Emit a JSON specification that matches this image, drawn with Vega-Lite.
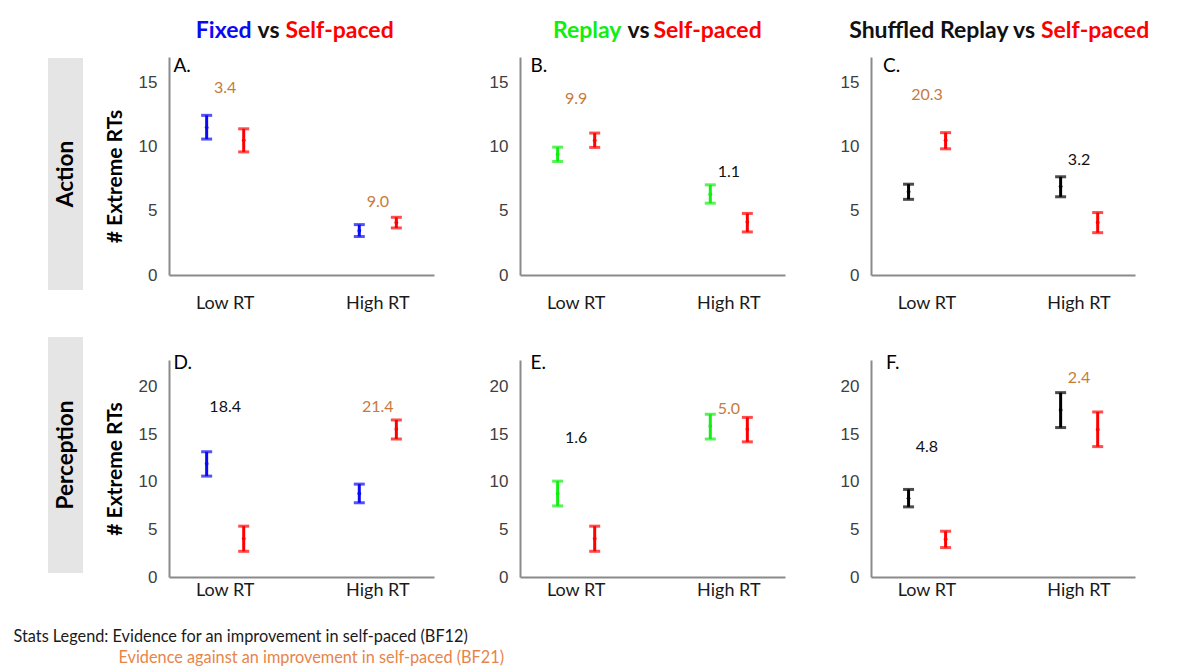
{
"$schema":"https://vega.github.io/schema/vega-lite/v6.json",
"padding":{"left":13,"top":20,"right":5,"bottom":0},
"background":"white",
"config":{"view":{"stroke":null},
 "axis":{"grid":false,"ticks":false,"domainColor":"#8a8a8a","domainWidth":2,"titleFont":"Lato","titleFontSize":21,"titleFontWeight":"bold","titleColor":"#000","titlePadding":13},
 "axisX":{"labelFont":"Lato","labelFontSize":18,"labelColor":"#1a1a1a","labelAngle":0},
 "axisY":{"labelFont":"Liberation Sans","labelFontSize":17,"labelColor":"#404040","labelPadding":12}},
"datasets":{
 "pts":[
  {"row":"Action","col":"Fixed","rt":"Low RT","cond":"Comparison","group":"Fixed","mean":11.5,"lo":10.6,"hi":12.45},
  {"row":"Action","col":"Fixed","rt":"Low RT","cond":"Self-paced","group":"Self-paced","mean":10.5,"lo":9.6,"hi":11.4},
  {"row":"Action","col":"Fixed","rt":"High RT","cond":"Comparison","group":"Fixed","mean":3.46,"lo":3.0,"hi":3.93},
  {"row":"Action","col":"Fixed","rt":"High RT","cond":"Self-paced","group":"Self-paced","mean":4.1,"lo":3.67,"hi":4.5},
  {"row":"Action","col":"Replay","rt":"Low RT","cond":"Comparison","group":"Replay","mean":9.4,"lo":8.85,"hi":9.97},
  {"row":"Action","col":"Replay","rt":"Low RT","cond":"Self-paced","group":"Self-paced","mean":10.5,"lo":9.95,"hi":11.07},
  {"row":"Action","col":"Replay","rt":"High RT","cond":"Comparison","group":"Replay","mean":6.3,"lo":5.6,"hi":7.03},
  {"row":"Action","col":"Replay","rt":"High RT","cond":"Self-paced","group":"Self-paced","mean":4.14,"lo":3.36,"hi":4.8},
  {"row":"Action","col":"Shuffled","rt":"Low RT","cond":"Comparison","group":"Shuffled Replay","mean":6.5,"lo":5.9,"hi":7.08},
  {"row":"Action","col":"Shuffled","rt":"Low RT","cond":"Self-paced","group":"Self-paced","mean":10.5,"lo":9.84,"hi":11.1},
  {"row":"Action","col":"Shuffled","rt":"High RT","cond":"Comparison","group":"Shuffled Replay","mean":6.9,"lo":6.1,"hi":7.66},
  {"row":"Action","col":"Shuffled","rt":"High RT","cond":"Self-paced","group":"Self-paced","mean":4.1,"lo":3.3,"hi":4.87},
  {"row":"Perception","col":"Fixed","rt":"Low RT","cond":"Comparison","group":"Fixed","mean":11.9,"lo":10.6,"hi":13.16},
  {"row":"Perception","col":"Fixed","rt":"Low RT","cond":"Self-paced","group":"Self-paced","mean":4.04,"lo":2.7,"hi":5.34},
  {"row":"Perception","col":"Fixed","rt":"High RT","cond":"Comparison","group":"Fixed","mean":8.78,"lo":7.8,"hi":9.76},
  {"row":"Perception","col":"Fixed","rt":"High RT","cond":"Self-paced","group":"Self-paced","mean":15.55,"lo":14.5,"hi":16.5},
  {"row":"Perception","col":"Replay","rt":"Low RT","cond":"Comparison","group":"Replay","mean":8.78,"lo":7.47,"hi":10.07},
  {"row":"Perception","col":"Replay","rt":"Low RT","cond":"Self-paced","group":"Self-paced","mean":4.04,"lo":2.7,"hi":5.34},
  {"row":"Perception","col":"Replay","rt":"High RT","cond":"Comparison","group":"Replay","mean":15.86,"lo":14.5,"hi":17.1},
  {"row":"Perception","col":"Replay","rt":"High RT","cond":"Self-paced","group":"Self-paced","mean":15.55,"lo":14.2,"hi":16.77},
  {"row":"Perception","col":"Shuffled","rt":"Low RT","cond":"Comparison","group":"Shuffled Replay","mean":8.28,"lo":7.37,"hi":9.2},
  {"row":"Perception","col":"Shuffled","rt":"Low RT","cond":"Self-paced","group":"Self-paced","mean":3.97,"lo":3.09,"hi":4.81},
  {"row":"Perception","col":"Shuffled","rt":"High RT","cond":"Comparison","group":"Shuffled Replay","mean":17.55,"lo":15.7,"hi":19.37},
  {"row":"Perception","col":"Shuffled","rt":"High RT","cond":"Self-paced","group":"Self-paced","mean":15.5,"lo":13.7,"hi":17.34}
 ],
 "bf":[
  {"row":"Action","col":"Fixed","rt":"Low RT","bf":"3.4","y":14.6,"kind":"against"},
  {"row":"Action","col":"Fixed","rt":"High RT","bf":"9.0","y":5.7,"kind":"against"},
  {"row":"Action","col":"Replay","rt":"Low RT","bf":"9.9","y":13.7,"kind":"against"},
  {"row":"Action","col":"Replay","rt":"High RT","bf":"1.1","y":8.07,"kind":"for"},
  {"row":"Action","col":"Shuffled","rt":"Low RT","bf":"20.3","y":14.06,"kind":"against"},
  {"row":"Action","col":"Shuffled","rt":"High RT","bf":"3.2","y":8.98,"kind":"for"},
  {"row":"Perception","col":"Fixed","rt":"Low RT","bf":"18.4","y":17.9,"kind":"for"},
  {"row":"Perception","col":"Fixed","rt":"High RT","bf":"21.4","y":17.9,"kind":"against"},
  {"row":"Perception","col":"Replay","rt":"Low RT","bf":"1.6","y":14.6,"kind":"for"},
  {"row":"Perception","col":"Replay","rt":"High RT","bf":"5.0","y":17.6,"kind":"against"},
  {"row":"Perception","col":"Shuffled","rt":"Low RT","bf":"4.8","y":13.7,"kind":"for"},
  {"row":"Perception","col":"Shuffled","rt":"High RT","bf":"2.4","y":20.9,"kind":"against"}
 ]
},
"columns":4,
"align":"each",
"spacing":{"row":85,"column":86},
"bounds":"flush",
"concat":[
  {"width":35,"height":218,"data":{"values":[{"label":"Action"}]},
   "layer":[
    {"mark":{"type":"rect","color":"#e5e5e5"},"encoding":{"x":{"datum":0,"type":"quantitative","scale":{"domain":[0,1]},"axis":null},"x2":{"datum":1},"y":{"datum":-0.069,"type":"quantitative","scale":{"domain":[0,1]},"axis":null},"y2":{"datum":0.995}}},
    {"mark":{"type":"text","font":"Lato","fontSize":22.5,"fontWeight":"bold","angle":270,"color":"#000"},"encoding":{"x":{"datum":0.5,"type":"quantitative","scale":{"domain":[0,1]},"axis":null},"y":{"datum":0.463,"type":"quantitative","scale":{"domain":[0,1]},"axis":null},"text":{"field":"label"}}}
   ]},
  {"width":265,"height":218,"resolve":{"scale":{"color":"independent"}},
   "layer":[
    {"data":{"name":"pts"},"transform":[{"filter":"datum.row==='Action' && datum.col==='Fixed'"}],"mark":{"type":"rule","strokeWidth":3},
     "encoding":{"x":{"field":"rt","type":"nominal","sort":["Low RT","High RT"],"title":null,"scale":{"paddingInner":0.6,"paddingOuter":0.168},"axis":{"labelPadding":19}},"xOffset":{"field":"cond","type":"nominal","scale":{"paddingInner":0.5,"paddingOuter":0.074}},
      "y":{"field":"lo","type":"quantitative","title":"# Extreme RTs","scale":{"domain":[0,17],"nice":false},"axis":{"values":[0,5,10,15],"titleY":119}},"y2":{"field":"hi"},
      "color":{"field":"group","type":"nominal","scale":{"domain":["Fixed","Replay","Shuffled Replay","Self-paced"],"range":["#0a0af5","#11ee11","#000000","#ff0000"]},"legend":null}}},
    {"data":{"name":"pts"},"transform":[{"filter":"datum.row==='Action' && datum.col==='Fixed'"}],"mark":{"type":"tick","thickness":3,"size":11},
     "encoding":{"x":{"field":"rt","type":"nominal","sort":["Low RT","High RT"],"title":null},"xOffset":{"field":"cond","type":"nominal"},
      "y":{"field":"lo","type":"quantitative","title":"# Extreme RTs","scale":{"domain":[0,17],"nice":false},"axis":{"values":[0,5,10,15],"titleY":119}},
      "color":{"field":"group","type":"nominal","scale":{"domain":["Fixed","Replay","Shuffled Replay","Self-paced"],"range":["#0a0af5","#11ee11","#000000","#ff0000"]},"legend":null}}},
    {"data":{"name":"pts"},"transform":[{"filter":"datum.row==='Action' && datum.col==='Fixed'"}],"mark":{"type":"tick","thickness":3,"size":11},
     "encoding":{"x":{"field":"rt","type":"nominal","sort":["Low RT","High RT"],"title":null},"xOffset":{"field":"cond","type":"nominal"},
      "y":{"field":"hi","type":"quantitative","title":"# Extreme RTs","scale":{"domain":[0,17],"nice":false},"axis":{"values":[0,5,10,15],"titleY":119}},
      "color":{"field":"group","type":"nominal","scale":{"domain":["Fixed","Replay","Shuffled Replay","Self-paced"],"range":["#0a0af5","#11ee11","#000000","#ff0000"]},"legend":null}}},
    {"data":{"name":"pts"},"transform":[{"filter":"datum.row==='Action' && datum.col==='Fixed'"}],"mark":{"type":"point","filled":true,"size":14,"opacity":1},
     "encoding":{"x":{"field":"rt","type":"nominal","sort":["Low RT","High RT"],"title":null},"xOffset":{"field":"cond","type":"nominal"},
      "y":{"field":"mean","type":"quantitative","title":"# Extreme RTs","scale":{"domain":[0,17],"nice":false},"axis":{"values":[0,5,10,15],"titleY":119}},
      "color":{"field":"group","type":"nominal","scale":{"domain":["Fixed","Replay","Shuffled Replay","Self-paced"],"range":["#0a0af5","#11ee11","#000000","#ff0000"]},"legend":null}}},
    {"data":{"name":"bf"},"transform":[{"filter":"datum.row==='Action' && datum.col==='Fixed'"}],"mark":{"type":"text","font":"Lato","fontSize":16},
     "encoding":{"x":{"field":"rt","type":"nominal","sort":["Low RT","High RT"],"title":null},
      "y":{"field":"y","type":"quantitative","title":"# Extreme RTs","scale":{"domain":[0,17],"nice":false},"axis":{"values":[0,5,10,15],"titleY":119}},
      "text":{"field":"bf"},
      "color":{"field":"kind","type":"nominal","scale":{"domain":["for","against"],"range":["#111111","#c57b3c"]},"legend":null}}},
    {"data":{"values":[{"w":"A."}]},"mark":{"type":"text","font":"Lato","fontSize":19,"align":"left","baseline":"top","dx":-128,"color":"#000"},
     "encoding":{"y":{"datum":17,"type":"quantitative","title":"# Extreme RTs","scale":{"domain":[0,17],"nice":false},"axis":{"values":[0,5,10,15],"titleY":119}},"text":{"field":"w"}}},
    {"data":{"values":[{"w":"Fixed"}]},"mark":{"type":"text","font":"Lato","fontSize":23,"fontWeight":"bold","align":"right","dx":-50,"color":"#0a0af5"},
     "encoding":{"y":{"datum":19,"type":"quantitative","title":"# Extreme RTs","scale":{"domain":[0,17],"nice":false},"axis":{"values":[0,5,10,15],"titleY":119}},"text":{"field":"w"}}},
    {"data":{"values":[{"w":"vs"}]},"mark":{"type":"text","font":"Lato","fontSize":23,"fontWeight":"bold","align":"center","dx":-33,"color":"#111111"},
     "encoding":{"y":{"datum":19,"type":"quantitative","title":"# Extreme RTs","scale":{"domain":[0,17],"nice":false},"axis":{"values":[0,5,10,15],"titleY":119}},"text":{"field":"w"}}},
    {"data":{"values":[{"w":"Self-paced"}]},"mark":{"type":"text","font":"Lato","fontSize":23,"fontWeight":"bold","align":"left","dx":-16,"color":"#ff0000"},
     "encoding":{"y":{"datum":19,"type":"quantitative","title":"# Extreme RTs","scale":{"domain":[0,17],"nice":false},"axis":{"values":[0,5,10,15],"titleY":119}},"text":{"field":"w"}}}
   ]},
  {"width":265,"height":218,"resolve":{"scale":{"color":"independent"}},
   "layer":[
    {"data":{"name":"pts"},"transform":[{"filter":"datum.row==='Action' && datum.col==='Replay'"}],"mark":{"type":"rule","strokeWidth":3},
     "encoding":{"x":{"field":"rt","type":"nominal","sort":["Low RT","High RT"],"title":null,"scale":{"paddingInner":0.6,"paddingOuter":0.168},"axis":{"labelPadding":19}},"xOffset":{"field":"cond","type":"nominal","scale":{"paddingInner":0.5,"paddingOuter":0.074}},
      "y":{"field":"lo","type":"quantitative","title":null,"scale":{"domain":[0,17],"nice":false},"axis":{"values":[0,5,10,15]}},"y2":{"field":"hi"},
      "color":{"field":"group","type":"nominal","scale":{"domain":["Fixed","Replay","Shuffled Replay","Self-paced"],"range":["#0a0af5","#11ee11","#000000","#ff0000"]},"legend":null}}},
    {"data":{"name":"pts"},"transform":[{"filter":"datum.row==='Action' && datum.col==='Replay'"}],"mark":{"type":"tick","thickness":3,"size":11},
     "encoding":{"x":{"field":"rt","type":"nominal","sort":["Low RT","High RT"],"title":null},"xOffset":{"field":"cond","type":"nominal"},
      "y":{"field":"lo","type":"quantitative","title":null,"scale":{"domain":[0,17],"nice":false},"axis":{"values":[0,5,10,15]}},
      "color":{"field":"group","type":"nominal","scale":{"domain":["Fixed","Replay","Shuffled Replay","Self-paced"],"range":["#0a0af5","#11ee11","#000000","#ff0000"]},"legend":null}}},
    {"data":{"name":"pts"},"transform":[{"filter":"datum.row==='Action' && datum.col==='Replay'"}],"mark":{"type":"tick","thickness":3,"size":11},
     "encoding":{"x":{"field":"rt","type":"nominal","sort":["Low RT","High RT"],"title":null},"xOffset":{"field":"cond","type":"nominal"},
      "y":{"field":"hi","type":"quantitative","title":null,"scale":{"domain":[0,17],"nice":false},"axis":{"values":[0,5,10,15]}},
      "color":{"field":"group","type":"nominal","scale":{"domain":["Fixed","Replay","Shuffled Replay","Self-paced"],"range":["#0a0af5","#11ee11","#000000","#ff0000"]},"legend":null}}},
    {"data":{"name":"pts"},"transform":[{"filter":"datum.row==='Action' && datum.col==='Replay'"}],"mark":{"type":"point","filled":true,"size":14,"opacity":1},
     "encoding":{"x":{"field":"rt","type":"nominal","sort":["Low RT","High RT"],"title":null},"xOffset":{"field":"cond","type":"nominal"},
      "y":{"field":"mean","type":"quantitative","title":null,"scale":{"domain":[0,17],"nice":false},"axis":{"values":[0,5,10,15]}},
      "color":{"field":"group","type":"nominal","scale":{"domain":["Fixed","Replay","Shuffled Replay","Self-paced"],"range":["#0a0af5","#11ee11","#000000","#ff0000"]},"legend":null}}},
    {"data":{"name":"bf"},"transform":[{"filter":"datum.row==='Action' && datum.col==='Replay'"}],"mark":{"type":"text","font":"Lato","fontSize":16},
     "encoding":{"x":{"field":"rt","type":"nominal","sort":["Low RT","High RT"],"title":null},
      "y":{"field":"y","type":"quantitative","title":null,"scale":{"domain":[0,17],"nice":false},"axis":{"values":[0,5,10,15]}},
      "text":{"field":"bf"},
      "color":{"field":"kind","type":"nominal","scale":{"domain":["for","against"],"range":["#111111","#c57b3c"]},"legend":null}}},
    {"data":{"values":[{"w":"B."}]},"mark":{"type":"text","font":"Lato","fontSize":19,"align":"left","baseline":"top","dx":-122,"color":"#000"},
     "encoding":{"y":{"datum":17,"type":"quantitative","title":null,"scale":{"domain":[0,17],"nice":false},"axis":{"values":[0,5,10,15]}},"text":{"field":"w"}}},
    {"data":{"values":[{"w":"Replay"}]},"mark":{"type":"text","font":"Lato","fontSize":23,"fontWeight":"bold","align":"right","dx":-31,"color":"#11ee11"},
     "encoding":{"y":{"datum":19,"type":"quantitative","title":null,"scale":{"domain":[0,17],"nice":false},"axis":{"values":[0,5,10,15]}},"text":{"field":"w"}}},
    {"data":{"values":[{"w":"vs"}]},"mark":{"type":"text","font":"Lato","fontSize":23,"fontWeight":"bold","align":"center","dx":-14,"color":"#111111"},
     "encoding":{"y":{"datum":19,"type":"quantitative","title":null,"scale":{"domain":[0,17],"nice":false},"axis":{"values":[0,5,10,15]}},"text":{"field":"w"}}},
    {"data":{"values":[{"w":"Self-paced"}]},"mark":{"type":"text","font":"Lato","fontSize":23,"fontWeight":"bold","align":"left","dx":1,"color":"#ff0000"},
     "encoding":{"y":{"datum":19,"type":"quantitative","title":null,"scale":{"domain":[0,17],"nice":false},"axis":{"values":[0,5,10,15]}},"text":{"field":"w"}}}
   ]},
  {"width":264,"height":218,"resolve":{"scale":{"color":"independent"}},
   "layer":[
    {"data":{"name":"pts"},"transform":[{"filter":"datum.row==='Action' && datum.col==='Shuffled'"}],"mark":{"type":"rule","strokeWidth":3},
     "encoding":{"x":{"field":"rt","type":"nominal","sort":["Low RT","High RT"],"title":null,"scale":{"paddingInner":0.6,"paddingOuter":0.168},"axis":{"labelPadding":19}},"xOffset":{"field":"cond","type":"nominal","scale":{"paddingInner":0.5,"paddingOuter":0.074}},
      "y":{"field":"lo","type":"quantitative","title":null,"scale":{"domain":[0,17],"nice":false},"axis":{"values":[0,5,10,15]}},"y2":{"field":"hi"},
      "color":{"field":"group","type":"nominal","scale":{"domain":["Fixed","Replay","Shuffled Replay","Self-paced"],"range":["#0a0af5","#11ee11","#000000","#ff0000"]},"legend":null}}},
    {"data":{"name":"pts"},"transform":[{"filter":"datum.row==='Action' && datum.col==='Shuffled'"}],"mark":{"type":"tick","thickness":3,"size":11},
     "encoding":{"x":{"field":"rt","type":"nominal","sort":["Low RT","High RT"],"title":null},"xOffset":{"field":"cond","type":"nominal"},
      "y":{"field":"lo","type":"quantitative","title":null,"scale":{"domain":[0,17],"nice":false},"axis":{"values":[0,5,10,15]}},
      "color":{"field":"group","type":"nominal","scale":{"domain":["Fixed","Replay","Shuffled Replay","Self-paced"],"range":["#0a0af5","#11ee11","#000000","#ff0000"]},"legend":null}}},
    {"data":{"name":"pts"},"transform":[{"filter":"datum.row==='Action' && datum.col==='Shuffled'"}],"mark":{"type":"tick","thickness":3,"size":11},
     "encoding":{"x":{"field":"rt","type":"nominal","sort":["Low RT","High RT"],"title":null},"xOffset":{"field":"cond","type":"nominal"},
      "y":{"field":"hi","type":"quantitative","title":null,"scale":{"domain":[0,17],"nice":false},"axis":{"values":[0,5,10,15]}},
      "color":{"field":"group","type":"nominal","scale":{"domain":["Fixed","Replay","Shuffled Replay","Self-paced"],"range":["#0a0af5","#11ee11","#000000","#ff0000"]},"legend":null}}},
    {"data":{"name":"pts"},"transform":[{"filter":"datum.row==='Action' && datum.col==='Shuffled'"}],"mark":{"type":"point","filled":true,"size":14,"opacity":1},
     "encoding":{"x":{"field":"rt","type":"nominal","sort":["Low RT","High RT"],"title":null},"xOffset":{"field":"cond","type":"nominal"},
      "y":{"field":"mean","type":"quantitative","title":null,"scale":{"domain":[0,17],"nice":false},"axis":{"values":[0,5,10,15]}},
      "color":{"field":"group","type":"nominal","scale":{"domain":["Fixed","Replay","Shuffled Replay","Self-paced"],"range":["#0a0af5","#11ee11","#000000","#ff0000"]},"legend":null}}},
    {"data":{"name":"bf"},"transform":[{"filter":"datum.row==='Action' && datum.col==='Shuffled'"}],"mark":{"type":"text","font":"Lato","fontSize":16},
     "encoding":{"x":{"field":"rt","type":"nominal","sort":["Low RT","High RT"],"title":null},
      "y":{"field":"y","type":"quantitative","title":null,"scale":{"domain":[0,17],"nice":false},"axis":{"values":[0,5,10,15]}},
      "text":{"field":"bf"},
      "color":{"field":"kind","type":"nominal","scale":{"domain":["for","against"],"range":["#111111","#c57b3c"]},"legend":null}}},
    {"data":{"values":[{"w":"C."}]},"mark":{"type":"text","font":"Lato","fontSize":19,"align":"left","baseline":"top","dx":-120,"color":"#000"},
     "encoding":{"y":{"datum":17,"type":"quantitative","title":null,"scale":{"domain":[0,17],"nice":false},"axis":{"values":[0,5,10,15]}},"text":{"field":"w"}}},
    {"data":{"values":[{"w":"Shuffled Replay vs"}]},"mark":{"type":"text","font":"Lato","fontSize":23,"fontWeight":"bold","align":"right","dx":32,"color":"#111111"},
     "encoding":{"y":{"datum":19,"type":"quantitative","title":null,"scale":{"domain":[0,17],"nice":false},"axis":{"values":[0,5,10,15]}},"text":{"field":"w"}}},
    {"data":{"values":[{"w":"Self-paced"}]},"mark":{"type":"text","font":"Lato","fontSize":23,"fontWeight":"bold","align":"left","dx":38,"color":"#ff0000"},
     "encoding":{"y":{"datum":19,"type":"quantitative","title":null,"scale":{"domain":[0,17],"nice":false},"axis":{"values":[0,5,10,15]}},"text":{"field":"w"}}}
   ]},
  {"width":35,"height":217,"data":{"values":[{"label":"Perception"}]},
   "layer":[
    {"mark":{"type":"rect","color":"#e5e5e5"},"encoding":{"x":{"datum":0,"type":"quantitative","scale":{"domain":[0,1]},"axis":null},"x2":{"datum":1},"y":{"datum":0.018,"type":"quantitative","scale":{"domain":[0,1]},"axis":null},"y2":{"datum":1.106}}},
    {"mark":{"type":"text","font":"Lato","fontSize":22.5,"fontWeight":"bold","angle":270,"color":"#000"},"encoding":{"x":{"datum":0.5,"type":"quantitative","scale":{"domain":[0,1]},"axis":null},"y":{"datum":0.562,"type":"quantitative","scale":{"domain":[0,1]},"axis":null},"text":{"field":"label"}}}
   ]},
  {"width":265,"height":217,"resolve":{"scale":{"color":"independent"}},
   "layer":[
    {"data":{"name":"pts"},"transform":[{"filter":"datum.row==='Perception' && datum.col==='Fixed'"}],"mark":{"type":"rule","strokeWidth":3},
     "encoding":{"x":{"field":"rt","type":"nominal","sort":["Low RT","High RT"],"title":null,"scale":{"paddingInner":0.6,"paddingOuter":0.168},"axis":{"labelPadding":4}},"xOffset":{"field":"cond","type":"nominal","scale":{"paddingInner":0.5,"paddingOuter":0.074}},
      "y":{"field":"lo","type":"quantitative","title":"# Extreme RTs","scale":{"domain":[0,22.8],"nice":false},"axis":{"values":[0,5,10,15,20]}},"y2":{"field":"hi"},
      "color":{"field":"group","type":"nominal","scale":{"domain":["Fixed","Replay","Shuffled Replay","Self-paced"],"range":["#0a0af5","#11ee11","#000000","#ff0000"]},"legend":null}}},
    {"data":{"name":"pts"},"transform":[{"filter":"datum.row==='Perception' && datum.col==='Fixed'"}],"mark":{"type":"tick","thickness":3,"size":11},
     "encoding":{"x":{"field":"rt","type":"nominal","sort":["Low RT","High RT"],"title":null},"xOffset":{"field":"cond","type":"nominal"},
      "y":{"field":"lo","type":"quantitative","title":"# Extreme RTs","scale":{"domain":[0,22.8],"nice":false},"axis":{"values":[0,5,10,15,20]}},
      "color":{"field":"group","type":"nominal","scale":{"domain":["Fixed","Replay","Shuffled Replay","Self-paced"],"range":["#0a0af5","#11ee11","#000000","#ff0000"]},"legend":null}}},
    {"data":{"name":"pts"},"transform":[{"filter":"datum.row==='Perception' && datum.col==='Fixed'"}],"mark":{"type":"tick","thickness":3,"size":11},
     "encoding":{"x":{"field":"rt","type":"nominal","sort":["Low RT","High RT"],"title":null},"xOffset":{"field":"cond","type":"nominal"},
      "y":{"field":"hi","type":"quantitative","title":"# Extreme RTs","scale":{"domain":[0,22.8],"nice":false},"axis":{"values":[0,5,10,15,20]}},
      "color":{"field":"group","type":"nominal","scale":{"domain":["Fixed","Replay","Shuffled Replay","Self-paced"],"range":["#0a0af5","#11ee11","#000000","#ff0000"]},"legend":null}}},
    {"data":{"name":"pts"},"transform":[{"filter":"datum.row==='Perception' && datum.col==='Fixed'"}],"mark":{"type":"point","filled":true,"size":14,"opacity":1},
     "encoding":{"x":{"field":"rt","type":"nominal","sort":["Low RT","High RT"],"title":null},"xOffset":{"field":"cond","type":"nominal"},
      "y":{"field":"mean","type":"quantitative","title":"# Extreme RTs","scale":{"domain":[0,22.8],"nice":false},"axis":{"values":[0,5,10,15,20]}},
      "color":{"field":"group","type":"nominal","scale":{"domain":["Fixed","Replay","Shuffled Replay","Self-paced"],"range":["#0a0af5","#11ee11","#000000","#ff0000"]},"legend":null}}},
    {"data":{"name":"bf"},"transform":[{"filter":"datum.row==='Perception' && datum.col==='Fixed'"}],"mark":{"type":"text","font":"Lato","fontSize":16},
     "encoding":{"x":{"field":"rt","type":"nominal","sort":["Low RT","High RT"],"title":null},
      "y":{"field":"y","type":"quantitative","title":"# Extreme RTs","scale":{"domain":[0,22.8],"nice":false},"axis":{"values":[0,5,10,15,20]}},
      "text":{"field":"bf"},
      "color":{"field":"kind","type":"nominal","scale":{"domain":["for","against"],"range":["#111111","#c57b3c"]},"legend":null}}},
    {"data":{"values":[{"w":"D."}]},"mark":{"type":"text","font":"Lato","fontSize":19,"align":"left","baseline":"top","dx":-128,"dy":-6,"color":"#000"},
     "encoding":{"y":{"datum":22.8,"type":"quantitative","title":"# Extreme RTs","scale":{"domain":[0,22.8],"nice":false},"axis":{"values":[0,5,10,15,20]}},"text":{"field":"w"}}}
   ]},
  {"width":265,"height":217,"resolve":{"scale":{"color":"independent"}},
   "layer":[
    {"data":{"name":"pts"},"transform":[{"filter":"datum.row==='Perception' && datum.col==='Replay'"}],"mark":{"type":"rule","strokeWidth":3},
     "encoding":{"x":{"field":"rt","type":"nominal","sort":["Low RT","High RT"],"title":null,"scale":{"paddingInner":0.6,"paddingOuter":0.168},"axis":{"labelPadding":4}},"xOffset":{"field":"cond","type":"nominal","scale":{"paddingInner":0.5,"paddingOuter":0.074}},
      "y":{"field":"lo","type":"quantitative","title":null,"scale":{"domain":[0,22.8],"nice":false},"axis":{"values":[0,5,10,15,20]}},"y2":{"field":"hi"},
      "color":{"field":"group","type":"nominal","scale":{"domain":["Fixed","Replay","Shuffled Replay","Self-paced"],"range":["#0a0af5","#11ee11","#000000","#ff0000"]},"legend":null}}},
    {"data":{"name":"pts"},"transform":[{"filter":"datum.row==='Perception' && datum.col==='Replay'"}],"mark":{"type":"tick","thickness":3,"size":11},
     "encoding":{"x":{"field":"rt","type":"nominal","sort":["Low RT","High RT"],"title":null},"xOffset":{"field":"cond","type":"nominal"},
      "y":{"field":"lo","type":"quantitative","title":null,"scale":{"domain":[0,22.8],"nice":false},"axis":{"values":[0,5,10,15,20]}},
      "color":{"field":"group","type":"nominal","scale":{"domain":["Fixed","Replay","Shuffled Replay","Self-paced"],"range":["#0a0af5","#11ee11","#000000","#ff0000"]},"legend":null}}},
    {"data":{"name":"pts"},"transform":[{"filter":"datum.row==='Perception' && datum.col==='Replay'"}],"mark":{"type":"tick","thickness":3,"size":11},
     "encoding":{"x":{"field":"rt","type":"nominal","sort":["Low RT","High RT"],"title":null},"xOffset":{"field":"cond","type":"nominal"},
      "y":{"field":"hi","type":"quantitative","title":null,"scale":{"domain":[0,22.8],"nice":false},"axis":{"values":[0,5,10,15,20]}},
      "color":{"field":"group","type":"nominal","scale":{"domain":["Fixed","Replay","Shuffled Replay","Self-paced"],"range":["#0a0af5","#11ee11","#000000","#ff0000"]},"legend":null}}},
    {"data":{"name":"pts"},"transform":[{"filter":"datum.row==='Perception' && datum.col==='Replay'"}],"mark":{"type":"point","filled":true,"size":14,"opacity":1},
     "encoding":{"x":{"field":"rt","type":"nominal","sort":["Low RT","High RT"],"title":null},"xOffset":{"field":"cond","type":"nominal"},
      "y":{"field":"mean","type":"quantitative","title":null,"scale":{"domain":[0,22.8],"nice":false},"axis":{"values":[0,5,10,15,20]}},
      "color":{"field":"group","type":"nominal","scale":{"domain":["Fixed","Replay","Shuffled Replay","Self-paced"],"range":["#0a0af5","#11ee11","#000000","#ff0000"]},"legend":null}}},
    {"data":{"name":"bf"},"transform":[{"filter":"datum.row==='Perception' && datum.col==='Replay'"}],"mark":{"type":"text","font":"Lato","fontSize":16},
     "encoding":{"x":{"field":"rt","type":"nominal","sort":["Low RT","High RT"],"title":null},
      "y":{"field":"y","type":"quantitative","title":null,"scale":{"domain":[0,22.8],"nice":false},"axis":{"values":[0,5,10,15,20]}},
      "text":{"field":"bf"},
      "color":{"field":"kind","type":"nominal","scale":{"domain":["for","against"],"range":["#111111","#c57b3c"]},"legend":null}}},
    {"data":{"values":[{"w":"E."}]},"mark":{"type":"text","font":"Lato","fontSize":19,"align":"left","baseline":"top","dx":-122,"dy":-6,"color":"#000"},
     "encoding":{"y":{"datum":22.8,"type":"quantitative","title":null,"scale":{"domain":[0,22.8],"nice":false},"axis":{"values":[0,5,10,15,20]}},"text":{"field":"w"}}}
   ]},
  {"width":264,"height":217,"resolve":{"scale":{"color":"independent"}},
   "layer":[
    {"data":{"name":"pts"},"transform":[{"filter":"datum.row==='Perception' && datum.col==='Shuffled'"}],"mark":{"type":"rule","strokeWidth":3},
     "encoding":{"x":{"field":"rt","type":"nominal","sort":["Low RT","High RT"],"title":null,"scale":{"paddingInner":0.6,"paddingOuter":0.168},"axis":{"labelPadding":4}},"xOffset":{"field":"cond","type":"nominal","scale":{"paddingInner":0.5,"paddingOuter":0.074}},
      "y":{"field":"lo","type":"quantitative","title":null,"scale":{"domain":[0,22.8],"nice":false},"axis":{"values":[0,5,10,15,20]}},"y2":{"field":"hi"},
      "color":{"field":"group","type":"nominal","scale":{"domain":["Fixed","Replay","Shuffled Replay","Self-paced"],"range":["#0a0af5","#11ee11","#000000","#ff0000"]},"legend":null}}},
    {"data":{"name":"pts"},"transform":[{"filter":"datum.row==='Perception' && datum.col==='Shuffled'"}],"mark":{"type":"tick","thickness":3,"size":11},
     "encoding":{"x":{"field":"rt","type":"nominal","sort":["Low RT","High RT"],"title":null},"xOffset":{"field":"cond","type":"nominal"},
      "y":{"field":"lo","type":"quantitative","title":null,"scale":{"domain":[0,22.8],"nice":false},"axis":{"values":[0,5,10,15,20]}},
      "color":{"field":"group","type":"nominal","scale":{"domain":["Fixed","Replay","Shuffled Replay","Self-paced"],"range":["#0a0af5","#11ee11","#000000","#ff0000"]},"legend":null}}},
    {"data":{"name":"pts"},"transform":[{"filter":"datum.row==='Perception' && datum.col==='Shuffled'"}],"mark":{"type":"tick","thickness":3,"size":11},
     "encoding":{"x":{"field":"rt","type":"nominal","sort":["Low RT","High RT"],"title":null},"xOffset":{"field":"cond","type":"nominal"},
      "y":{"field":"hi","type":"quantitative","title":null,"scale":{"domain":[0,22.8],"nice":false},"axis":{"values":[0,5,10,15,20]}},
      "color":{"field":"group","type":"nominal","scale":{"domain":["Fixed","Replay","Shuffled Replay","Self-paced"],"range":["#0a0af5","#11ee11","#000000","#ff0000"]},"legend":null}}},
    {"data":{"name":"pts"},"transform":[{"filter":"datum.row==='Perception' && datum.col==='Shuffled'"}],"mark":{"type":"point","filled":true,"size":14,"opacity":1},
     "encoding":{"x":{"field":"rt","type":"nominal","sort":["Low RT","High RT"],"title":null},"xOffset":{"field":"cond","type":"nominal"},
      "y":{"field":"mean","type":"quantitative","title":null,"scale":{"domain":[0,22.8],"nice":false},"axis":{"values":[0,5,10,15,20]}},
      "color":{"field":"group","type":"nominal","scale":{"domain":["Fixed","Replay","Shuffled Replay","Self-paced"],"range":["#0a0af5","#11ee11","#000000","#ff0000"]},"legend":null}}},
    {"data":{"name":"bf"},"transform":[{"filter":"datum.row==='Perception' && datum.col==='Shuffled'"}],"mark":{"type":"text","font":"Lato","fontSize":16},
     "encoding":{"x":{"field":"rt","type":"nominal","sort":["Low RT","High RT"],"title":null},
      "y":{"field":"y","type":"quantitative","title":null,"scale":{"domain":[0,22.8],"nice":false},"axis":{"values":[0,5,10,15,20]}},
      "text":{"field":"bf"},
      "color":{"field":"kind","type":"nominal","scale":{"domain":["for","against"],"range":["#111111","#c57b3c"]},"legend":null}}},
    {"data":{"values":[{"w":"F."}]},"mark":{"type":"text","font":"Lato","fontSize":19,"align":"left","baseline":"top","dx":-117,"dy":-6,"color":"#000"},
     "encoding":{"y":{"datum":22.8,"type":"quantitative","title":null,"scale":{"domain":[0,22.8],"nice":false},"axis":{"values":[0,5,10,15,20]}},"text":{"field":"w"}}}
   ]},
  {"width":1,"height":4,
   "layer":[
    {"data":{"values":[{"t":"Stats Legend: Evidence for an improvement in self-paced (BF12)"}]},"mark":{"type":"text","font":"Lato","fontSize":16.3,"align":"left","color":"#1a1a1a","dx":-35,"dy":-27},"encoding":{"text":{"field":"t"}}},
    {"data":{"values":[{"t":"Evidence against an improvement in self-paced (BF21)"}]},"mark":{"type":"text","font":"Lato","fontSize":16.3,"align":"left","color":"#e8844a","dx":70,"dy":-6},"encoding":{"text":{"field":"t"}}}
   ]}
]
}
